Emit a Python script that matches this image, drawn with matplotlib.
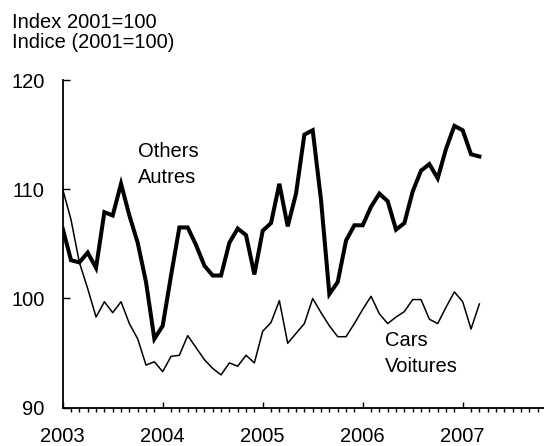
#!/usr/bin/env python3
"""
Monthly index of car vs other retail sales, 2003-2007 (2001=100).
Writes out.png.
"""

import matplotlib

matplotlib.use("Agg")  # headless
import matplotlib.pyplot as plt  # noqa: E402
from matplotlib.ticker import MultipleLocator  # noqa: E402

# --------------------------------------------------------------------------- #
# Data (monthly, Jan 2003 .. Mar 2007)
# --------------------------------------------------------------------------- #
start_year = 2003
year_labels = ["2003", "2004", "2005", "2006", "2007"]

others = [
    106.4, 103.5, 103.3, 104.2, 102.8, 107.9, 107.6, 110.5, 107.6, 105.1, 101.5, 96.3,   # 2003
    97.5, 102.1, 106.5, 106.5, 104.9, 103.0, 102.1, 102.1, 105.1, 106.4, 105.8, 102.2,   # 2004
    106.2, 106.9, 110.5, 106.6, 109.6, 115.0, 115.4, 109.0, 100.4, 101.5, 105.3, 106.7,  # 2005
    106.7, 108.4, 109.6, 108.9, 106.3, 106.9, 109.8, 111.7, 112.3, 111.0, 113.7, 115.8,  # 2006
    115.4, 113.2, 113.0,                                                                 # 2007
]

cars = [
    110.0, 107.2, 103.3, 100.9, 98.3, 99.7, 98.7, 99.7, 97.7, 96.3, 93.9, 94.2,   # 2003
    93.3, 94.7, 94.8, 96.6, 95.5, 94.4, 93.6, 93.0, 94.1, 93.8, 94.8, 94.1,       # 2004
    97.0, 97.8, 99.8, 95.9, 96.8, 97.7, 100.0, 98.7, 97.5, 96.5, 96.5, 97.7,      # 2005
    99.0, 100.2, 98.6, 97.7, 98.3, 98.8, 99.9, 99.9, 98.1, 97.7, 99.2, 100.6,     # 2006
    99.7, 97.2, 99.5,                                                             # 2007
]

FONT = "Liberation Sans"
FS = 14.5


def main():
    plt.rcParams["font.family"] = [FONT, "DejaVu Sans"]

    fig = plt.figure(figsize=(5.44, 4.46), dpi=100)
    # axis runs off the right edge of the picture, as in the original
    ax = fig.add_axes([62.7 / 544, 38.3 / 446, 500 / 544, 327.7 / 446])

    months = list(range(len(others)))
    ax.plot(months, others, color="black", lw=2.9, solid_joinstyle="miter")
    ax.plot(months, cars, color="black", lw=1.1)

    ax.set_xlim(0, 60)
    ax.set_ylim(90, 120)

    ax.set_yticks([90, 100, 110, 120])
    ax.set_xticks([12 * i for i in range(len(year_labels))])
    ax.set_xticklabels(year_labels)
    ax.xaxis.set_minor_locator(MultipleLocator(1))

    ax.tick_params(axis="both", direction="in", labelsize=FS, width=1.0, color="black")
    ax.tick_params(axis="y", length=5, pad=13)
    ax.tick_params(axis="x", which="major", length=4.5, pad=14)
    ax.tick_params(axis="x", which="minor", length=3, width=1.0)

    for side in ("top", "right"):
        ax.spines[side].set_visible(False)
    for side in ("left", "bottom"):
        ax.spines[side].set_linewidth(1.3)

    # series labels
    ax.text(9.07, 112.94, "Others", fontsize=FS, ha="left", va="baseline")
    ax.text(9.07, 110.56, "Autres", fontsize=FS, ha="left", va="baseline")
    ax.text(38.7, 95.63, "Cars", fontsize=FS, ha="left", va="baseline")
    ax.text(38.7, 93.25, "Voitures", fontsize=FS, ha="left", va="baseline")

    # unit caption above the axis
    fig.text(12 / 544, 1 - 27.5 / 446, "Index 2001=100", fontsize=FS, va="baseline")
    fig.text(12 / 544, 1 - 48 / 446, "Indice (2001=100)", fontsize=FS, va="baseline")

    fig.savefig("out.png", dpi=100)
    plt.close(fig)


if __name__ == "__main__":
    main()
